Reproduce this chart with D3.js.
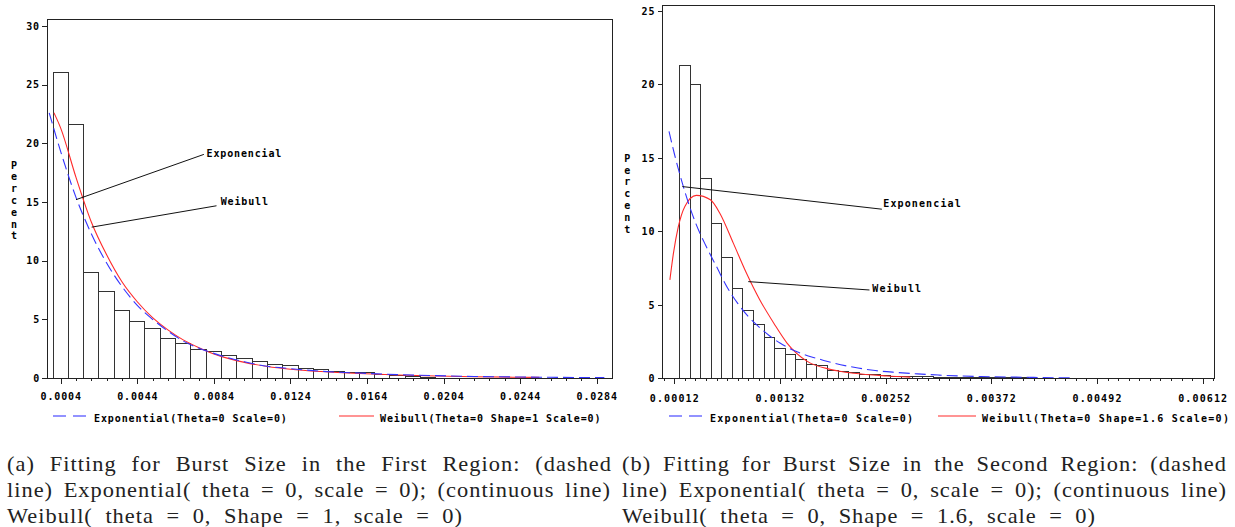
<!DOCTYPE html>
<meta charset="utf-8">
<title>Burst Size Fitting</title>
<style>
  body { margin: 0; background: #fff; }
  .mono { font-family: "DejaVu Sans Mono", monospace; font-weight: bold; font-size: 10px; fill: #000; }
  .cap { font-family: "Liberation Serif", serif; font-size: 20px; fill: #222; letter-spacing: 0.9px; }
</style>
<body>
<script src="https://d3js.org/d3.v7.min.js"></script>
<script>

// (a) first region: histogram, bins of 0.0008 starting at 0
var leftPercent = [26.0, 21.6, 9.0, 7.34, 5.78, 4.78, 4.21, 3.33, 2.93, 2.45, 2.25, 1.96, 1.65,
                   1.37, 1.11, 1.05, 0.85, 0.72, 0.59, 0.48, 0.43, 0.31, 0.23, 0.12, 0.08];
var leftTicks = [0.0004, 0.0044, 0.0084, 0.0124, 0.0164, 0.0204, 0.0244, 0.0284];
var leftYTicks = [0, 5, 10, 15, 20, 25, 30];
var leftExp = [[-0.0002, 22.6], [0.0004, 19.3], [0.0012, 15.4], [0.002, 12.3], [0.0028, 9.8],
               [0.0036, 7.8], [0.0044, 6.2], [0.0052, 5.0], [0.006, 4.0], [0.0068, 3.15],
               [0.0076, 2.55], [0.0084, 2.1], [0.0092, 1.7], [0.01, 1.38], [0.0112, 1.0],
               [0.0124, 0.8], [0.014, 0.58], [0.016, 0.42], [0.018, 0.29], [0.02, 0.2],
               [0.022, 0.13], [0.024, 0.09], [0.026, 0.06], [0.0288, 0.03]];
var leftWei = [[0.00005, 22.6], [0.0004, 21.3], [0.0012, 17.1], [0.002, 13.3], [0.0028, 10.5],
               [0.0036, 8.2], [0.0044, 6.5], [0.0052, 5.15], [0.006, 4.1], [0.0068, 3.25],
               [0.0076, 2.6], [0.0084, 2.05], [0.0092, 1.65], [0.01, 1.33], [0.0112, 0.98],
               [0.0124, 0.75], [0.014, 0.55], [0.016, 0.38], [0.018, 0.26], [0.02, 0.17],
               [0.022, 0.11], [0.024, 0.07], [0.0254, 0.05]];
// label, point on curve, line end, text position (data units)
var leftNotes = [["Exponencial", [0.0012, 15.2], [0.00788, 19.06], [0.00802, 19.15]],
                 ["Weibull", [0.00202, 12.86], [0.00854, 14.68], [0.00876, 15.05]]];
var leftLegend = ["Exponential(Theta=0 Scale=0)", "Weibull(Theta=0 Shape=1 Scale=0)"];
var leftCaption = ["(a) Fitting for Burst Size in the First Region: (dashed",
                   "line) Exponential( theta = 0, scale = 0); (continuous line)",
                   "Weibull( theta = 0, Shape = 1, scale = 0)"];

// (b) second region: histogram, bins of 0.00012 starting at 0.00018
var rightPercent = [21.27, 19.98, 13.6, 10.56, 8.22, 6.1, 4.6, 3.68, 2.79, 2.04, 1.63, 1.29, 0.94,
                    0.87, 0.55, 0.44, 0.37, 0.27, 0.24, 0.2, 0.15, 0.13, 0.11, 0.1, 0.08, 0.07,
                    0.06, 0.05, 0.05, 0.04, 0.04, 0.03, 0.03, 0.02, 0.02];
var rightTicks = [0.00012, 0.00132, 0.00252, 0.00372, 0.00492, 0.00612];
var rightYTicks = [0, 5, 10, 15, 20, 25];
var rightExp = [[0.00006, 16.8], [0.00012, 15.3], [0.00024, 12.7], [0.00036, 10.6], [0.00048, 9.0],
                [0.0006, 7.6], [0.00072, 6.2], [0.00084, 5.1], [0.00096, 4.2], [0.00108, 3.5],
                [0.0012, 2.9], [0.00132, 2.4], [0.00144, 2.0], [0.00156, 1.7], [0.00168, 1.45],
                [0.0018, 1.25], [0.00192, 1.05], [0.00216, 0.75], [0.0024, 0.53], [0.00264, 0.4],
                [0.00288, 0.3], [0.00312, 0.22], [0.00336, 0.16], [0.0036, 0.12], [0.0039, 0.09],
                [0.0042, 0.06], [0.00462, 0.03]];
var rightWei = [[0.00007, 6.7], [0.00011, 8.5], [0.000165, 10.3], [0.00024, 11.7], [0.00037, 12.45],
                [0.00053, 12.15], [0.00064, 11.2], [0.00079, 9.2], [0.00094, 7.15], [0.00109, 5.35],
                [0.00125, 3.75], [0.0014, 2.4], [0.00163, 1.15], [0.0019, 0.6], [0.00216, 0.34],
                [0.00253, 0.16], [0.0028, 0.08]];
var rightNotes = [["Exponencial", [0.000211, 13.05], [0.002477, 11.51], [0.002493, 11.87]],
                  ["Weibull", [0.00096, 6.58], [0.002336, 6.01], [0.002368, 6.13]]];
var rightLegend = ["Exponential(Theta=0 Scale=0)", "Weibull(Theta=0 Shape=1.6 Scale=0)"];
var rightCaption = ["(b) Fitting for Burst Size in the Second Region: (dashed",
                    "line) Exponential( theta = 0, scale = 0); (continuous line)",
                    "Weibull( theta = 0, Shape = 1.6, scale = 0)"];

var svg = d3.select("body").append("svg")
    .attr("width", 1235)
    .attr("height", 527);

var capStretch = 1.12;  // the TeX roman is wider than Times

function drawPanel(p) {
  var x = d3.scaleLinear().domain(p.xDomain).range([p.left, p.right]);
  var y = d3.scaleLinear().domain([0, p.yMax]).range([p.bottom, p.top]);
  var g = svg.append("g");

  svg.append("clipPath").attr("id", "clip-" + p.id)
    .append("rect")
    .attr("x", p.left).attr("y", p.top)
    .attr("width", p.right - p.left).attr("height", p.bottom - p.top);

  // bars
  g.append("g").selectAll("rect")
    .data(p.percent)
    .join("rect")
    .attr("x", function(d, i) { return x(p.binStart + i * p.binWidth); })
    .attr("width", function(d, i) { return x(p.binStart + (i + 1) * p.binWidth) - x(p.binStart + i * p.binWidth); })
    .attr("y", function(d) { return y(d); })
    .attr("height", function(d) { return y(0) - y(d); })
    .attr("fill", "#fff")
    .attr("stroke", "#333")
    .attr("shape-rendering", "crispEdges");

  // fitted curves
  var line = d3.line()
    .x(function(d) { return x(d[0]); })
    .y(function(d) { return y(d[1]); })
    .curve(d3.curveMonotoneX);

  var curves = g.append("g").attr("clip-path", "url(#clip-" + p.id + ")");
  curves.append("path").datum(p.wei)
    .attr("d", line).attr("fill", "none")
    .attr("stroke", "#ff2a2a").attr("stroke-width", 1.1);
  curves.append("path").datum(p.exp)
    .attr("d", line).attr("fill", "none")
    .attr("stroke", "#3434ff").attr("stroke-width", 1.1)
    .attr("stroke-dasharray", "11,5");

  // frame
  g.append("rect")
    .attr("x", p.left).attr("y", p.top)
    .attr("width", p.right - p.left).attr("height", p.bottom - p.top)
    .attr("fill", "none").attr("stroke", "#222")
    .attr("shape-rendering", "crispEdges");

  // axes
  var xMajor = g.append("g")
    .attr("transform", "translate(0," + p.bottom + ")")
    .call(d3.axisBottom(x).tickValues(p.ticks).tickSize(6).tickFormat(function(d) { return d3.format(p.fmt)(d); }));
  xMajor.selectAll("text")
    .attr("class", "mono").attr("y", p.labelDy).attr("dy", "0.35em")
    .style("letter-spacing", p.spacing + "px");
  var minor = d3.range(Math.ceil(p.xDomain[0] / p.minorStep + 1e-6), Math.floor(p.xDomain[1] / p.minorStep + 1e-6) + 1)
    .map(function(k) { return p.minorOffset + k * p.minorStep; })
    .filter(function(v) { return v > p.xDomain[0] && v < p.xDomain[1]; });
  g.append("g")
    .attr("transform", "translate(0," + p.bottom + ")")
    .call(d3.axisBottom(x).tickValues(minor).tickSize(3).tickFormat(""));

  g.append("g")
    .attr("transform", "translate(" + p.left + ",0)")
    .call(d3.axisLeft(y).tickValues(p.yTicks).tickSize(5).tickPadding(2))
    .selectAll("text").attr("class", "mono").style("letter-spacing", p.spacing + "px");

  g.selectAll(".domain").remove();
  g.selectAll(".tick line").attr("stroke", "#222").attr("shape-rendering", "crispEdges");

  // vertical "Percent"
  g.append("g").selectAll("text")
    .data("Percent".split(""))
    .join("text")
    .attr("class", "mono")
    .attr("x", p.yLabelX)
    .attr("y", function(d, i) { return p.yLabelY + i * 11.8; })
    .attr("dy", "0.35em")
    .attr("text-anchor", "middle")
    .text(function(d) { return d; });

  // annotations
  p.notes.forEach(function(n) {
    g.append("line")
      .attr("x1", x(n[1][0])).attr("y1", y(n[1][1]))
      .attr("x2", x(n[2][0])).attr("y2", y(n[2][1]))
      .attr("stroke", "#111");
    g.append("text")
      .attr("class", "mono")
      .attr("x", x(n[3][0])).attr("y", y(n[3][1]))
      .attr("dy", "0.35em")
      .style("letter-spacing", p.spacing + "px")
      .text(n[0]);
  });

  // legend
  var lg = g.append("g");
  lg.append("line")
    .attr("x1", p.legend[0][0]).attr("x2", p.legend[0][1])
    .attr("y1", p.legendY).attr("y2", p.legendY)
    .attr("stroke", "#6f6fff").attr("stroke-width", 1.3)
    .attr("stroke-dasharray", "13,7");
  lg.append("line")
    .attr("x1", p.legend[1][0]).attr("x2", p.legend[1][1])
    .attr("y1", p.legendY).attr("y2", p.legendY)
    .attr("stroke", "#ff7070").attr("stroke-width", 1.3);
  lg.selectAll("text")
    .data(p.legendText)
    .join("text")
    .attr("class", "mono")
    .attr("x", function(d, i) { return p.legend[i][2]; })
    .attr("y", p.legendY + 2)
    .attr("dy", "0.35em")
    .style("letter-spacing", p.legendSpacing + "px")
    .text(function(d) { return d; });

  // caption, justified by widening the word gaps
  g.append("g").selectAll("text")
    .data(p.caption)
    .join("text")
    .attr("class", "cap")
    .attr("transform", function(d, i) { return "translate(" + p.capX + "," + p.capY[i] + ") scale(" + capStretch + ",1)"; })
    .text(function(d) { return d; })
    .each(function(d, i) {
      var natural = this.getComputedTextLength();
      var gaps = d.split(" ").length - 1;
      var extra = Math.max(0, (p.capW[i] / capStretch - natural) / gaps);
      d3.select(this).style("word-spacing", extra + "px");
    });
}

drawPanel({
  id: "a", left: 47, right: 612, top: 19, bottom: 378,
  xDomain: [-0.000315, 0.0292], yMax: 30.6,
  percent: leftPercent, binStart: 0, binWidth: 0.0008,
  exp: leftExp, wei: leftWei, notes: leftNotes,
  ticks: leftTicks, yTicks: leftYTicks, fmt: ".4f",
  minorStep: 0.0008, minorOffset: 0.0004, labelDy: 18.7, spacing: 0.85,
  yLabelX: 14, yLabelY: 165,
  legendText: leftLegend, legendY: 416, legendSpacing: 0.9,
  legend: [[53, 87, 94], [339, 374, 380]],
  caption: leftCaption, capX: 7, capY: [470.5, 497, 523], capW: [605, 604, 456]
});

drawPanel({
  id: "b", left: 662.7, right: 1214.3, top: 5.7, bottom: 378.3,
  xDomain: [-0.0000117, 0.0062517], yMax: 25.36,
  percent: rightPercent, binStart: 0.00018, binWidth: 0.00012,
  exp: rightExp, wei: rightWei, notes: rightNotes,
  ticks: rightTicks, yTicks: rightYTicks, fmt: ".5f",
  minorStep: 0.00012, minorOffset: 0, labelDy: 20, spacing: 1.12,
  yLabelX: 627.3, yLabelY: 158.3,
  legendText: rightLegend, legendY: 416, legendSpacing: 1.28,
  legend: [[669, 703, 710], [938, 976, 982]],
  caption: rightCaption, capX: 622, capY: [470.5, 497, 523], capW: [605, 605, 474]
});

</script>
